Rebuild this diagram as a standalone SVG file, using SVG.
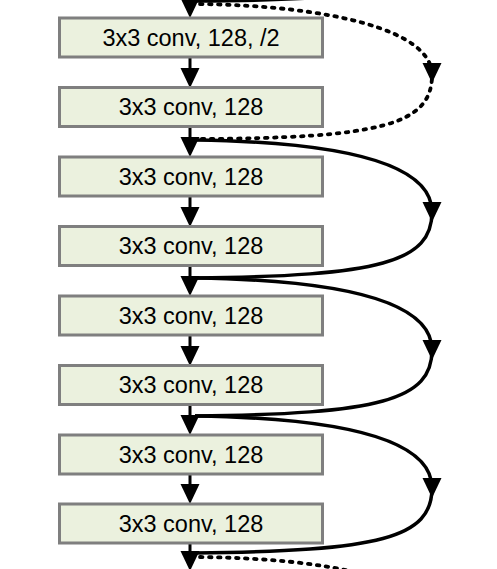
<svg xmlns="http://www.w3.org/2000/svg" xmlns:xlink="http://www.w3.org/1999/xlink" width="497" height="569" viewBox="0 0 497 569">
<style>
.box{fill:#ebf1de;stroke:#7f7f7f;stroke-width:3}
.lbl{font-family:"Liberation Sans",Arial,sans-serif;font-size:23.5px;fill:#000;text-anchor:middle}
.v{stroke:#000;stroke-width:3;fill:none}
.skip{stroke:#000;stroke-width:3.5;fill:none}
.dash{stroke:#000;stroke-width:3.8;fill:none;stroke-dasharray:2.5 6.5;stroke-linecap:round}
.ah{fill:#000}
</style>
<defs>
<polygon id="ahd" points="-9.5,-20 9.5,-20 0,0"/>
</defs>
<rect width="497" height="569" fill="#fff"/>
<g id="connectors">
<path class="skip" d="M 432 -70 C 432 -10, 380 0, 195 1"/>
<path class="dash" d="M 200 4 C 330 6, 432 30, 432 75 C 432 125, 380 138, 198 139"/>
<path class="skip" d="M 195 140 C 330 142, 432 160, 432 212 C 432 262, 380 276, 195 278"/>
<path class="skip" d="M 195 278 C 330 280, 432 298, 432 350 C 432 400, 380 414, 195 416"/>
<path class="skip" d="M 195 416 C 330 418, 432 436, 432 488 C 432 538, 380 551, 195 553"/>
<path class="dash" d="M 200 557 C 260 558, 320 562, 370 576"/>
<use xlink:href="#ahd" class="ah" x="432" y="83"/>
<use xlink:href="#ahd" class="ah" x="432" y="222"/>
<use xlink:href="#ahd" class="ah" x="432" y="360"/>
<use xlink:href="#ahd" class="ah" x="432" y="498"/>
<line class="v" x1="190" y1="0" x2="190" y2="2"/>
<use xlink:href="#ahd" class="ah" x="190" y="18"/>
<line class="v" x1="190" y1="57" x2="190" y2="72"/>
<use xlink:href="#ahd" class="ah" x="190" y="88"/>
<line class="v" x1="190" y1="126" x2="190" y2="141"/>
<use xlink:href="#ahd" class="ah" x="190" y="157"/>
<line class="v" x1="190" y1="196" x2="190" y2="211"/>
<use xlink:href="#ahd" class="ah" x="190" y="227"/>
<line class="v" x1="190" y1="265" x2="190" y2="280"/>
<use xlink:href="#ahd" class="ah" x="190" y="296"/>
<line class="v" x1="190" y1="335" x2="190" y2="350"/>
<use xlink:href="#ahd" class="ah" x="190" y="366"/>
<line class="v" x1="190" y1="404" x2="190" y2="419"/>
<use xlink:href="#ahd" class="ah" x="190" y="435"/>
<line class="v" x1="190" y1="474" x2="190" y2="489"/>
<use xlink:href="#ahd" class="ah" x="190" y="504"/>
<line class="v" x1="190" y1="543" x2="190" y2="556"/>
<use xlink:href="#ahd" class="ah" x="190" y="571"/>
</g>
<g id="n1"><rect class="box" x="59.5" y="18" width="263" height="39"/><text class="lbl" x="191" y="45.5">3x3 conv, 128, /2</text></g>
<g id="n2"><rect class="box" x="59.5" y="87.5" width="263" height="39"/><text class="lbl" x="191" y="115">3x3 conv, 128</text></g>
<g id="n3"><rect class="box" x="59.5" y="157" width="263" height="39"/><text class="lbl" x="191" y="184.5">3x3 conv, 128</text></g>
<g id="n4"><rect class="box" x="59.5" y="226.5" width="263" height="39"/><text class="lbl" x="191" y="254">3x3 conv, 128</text></g>
<g id="n5"><rect class="box" x="59.5" y="296" width="263" height="39"/><text class="lbl" x="191" y="323.5">3x3 conv, 128</text></g>
<g id="n6"><rect class="box" x="59.5" y="365.5" width="263" height="39"/><text class="lbl" x="191" y="393">3x3 conv, 128</text></g>
<g id="n7"><rect class="box" x="59.5" y="435" width="263" height="39"/><text class="lbl" x="191" y="462.5">3x3 conv, 128</text></g>
<g id="n8"><rect class="box" x="59.5" y="504" width="263" height="39"/><text class="lbl" x="191" y="531.5">3x3 conv, 128</text></g>
</svg>
